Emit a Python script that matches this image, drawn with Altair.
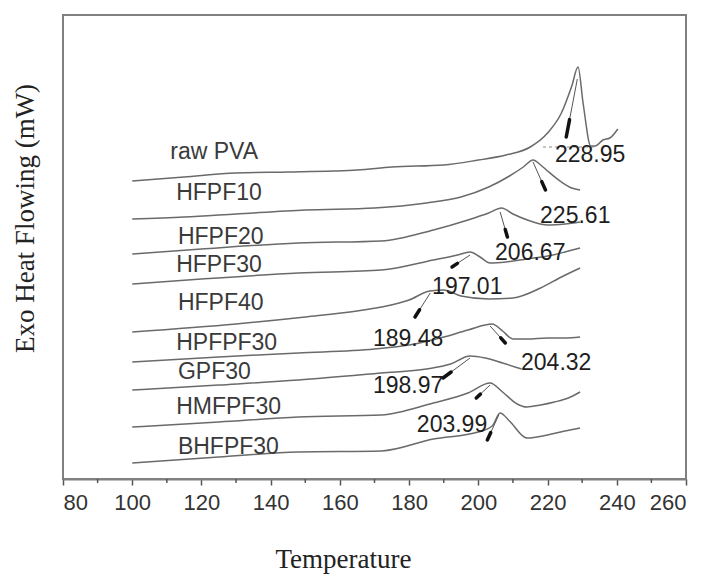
import altair as alt
import pandas as pd

# ---- curve data (Temperature, Exo heat flow in arbitrary mW offset units) ----
samples = ["raw PVA", "HFPF10", "HFPF20", "HFPF30", "HFPF40",
           "HPFPF30", "GPF30", "HMFPF30", "BHFPF30"]

raw_t = [100, 115, 130, 145, 158, 165, 175, 190, 200, 208, 215, 220, 224, 227, 228.8, 230.3, 232.5, 233.8, 236, 238, 240.3]
raw_v = [29.8, 30.2, 30.6, 30.7, 30.8, 30.9, 31.2, 31.4, 31.9, 32.4, 33.2, 34.6, 36.6, 39.3, 41.2, 37.5, 33.3, 33.3, 33.9, 34.1, 35.0]

f10_t = [100, 115, 130, 150, 170, 185, 195, 203, 209, 213, 215.8, 218, 220, 224, 227, 229.4]
f10_v = [26.0, 26.2, 26.5, 26.9, 27.1, 27.6, 28.2, 29.2, 30.3, 31.2, 31.9, 31.4, 30.8, 29.7, 29.1, 28.9]

f20_t = [100, 120, 148, 172, 187, 197, 203, 206.7, 210, 215, 220, 225, 229.4]
f20_v = [22.5, 23.0, 23.6, 23.8, 24.9, 25.9, 26.6, 27.1, 26.5, 25.8, 25.4, 25.5, 25.7]

f30_t = [100, 120, 148, 172, 187, 194, 197.6, 200.5, 203.4, 208, 214, 220, 225, 229.4]
f30_v = [19.5, 20.0, 20.6, 20.9, 21.9, 22.4, 22.7, 22.2, 21.6, 21.7, 22.0, 22.3, 22.7, 23.1]

f40_t = [100, 130, 150, 165, 172, 180, 186, 190, 195, 203, 210, 218, 224, 229.4]
f40_v = [14.7, 15.5, 16.2, 16.8, 17.2, 17.9, 18.8, 18.9, 18.3, 18.0, 18.1, 19.1, 20.2, 21.1]

hp_t = [100, 125, 148, 170, 180, 190, 197, 204, 207, 210, 214, 220, 225, 229.4]
hp_v = [11.7, 12.2, 12.6, 13.0, 13.4, 14.2, 14.9, 15.5, 14.8, 14.0, 14.0, 14.1, 14.1, 14.2]

gp_t = [100, 125, 148, 172, 185, 192, 197.6, 202, 207, 212.5]
gp_v = [8.9, 9.4, 9.9, 10.6, 11.0, 11.5, 12.3, 12.1, 11.6, 11.0]

hm_t = [100, 125, 148, 172, 187, 197, 203.4, 207, 211.2, 214, 218, 222, 226, 229.4]
hm_v = [5.2, 5.7, 6.2, 6.4, 7.6, 8.6, 9.6, 8.7, 7.5, 7.2, 7.4, 7.7, 8.1, 8.7]

bh_t = [100, 125, 148, 172, 187, 200, 204, 206.3, 209, 214, 220, 225, 229.4]
bh_v = [1.6, 2.2, 2.7, 2.8, 4.0, 4.7, 5.3, 6.6, 5.8, 4.1, 4.4, 4.8, 5.1]

series_t = [raw_t, f10_t, f20_t, f30_t, f40_t, hp_t, gp_t, hm_t, bh_t]
series_v = [raw_v, f10_v, f20_v, f30_v, f40_v, hp_v, gp_v, hm_v, bh_v]

# sample name labels
label_t = [111.0, 112.7, 113.2, 112.7, 113.2, 112.7, 113.2, 112.7, 113.2]
label_v = [32.7, 28.6, 24.2, 21.4, 17.6, 13.6, 10.7, 7.2, 3.2]

# peak temperature annotations
peak_text = ["228.95", "225.61", "206.67", "197.01", "189.48", "204.32", "198.97", "203.99"]
peak_t = [232.3, 228.0, 215.0, 196.8, 179.7, 222.5, 179.7, 192.4]
peak_v = [32.4, 26.3, 22.6, 19.2, 14.0, 11.6, 9.3, 5.4]

# annotation arrows (from curve to label)
arr_t0 = [228.6, 215.8, 206.3, 197.6, 186.1, 203.4, 197.6, 203.4, 205.9]
arr_v0 = [40.0, 31.7, 26.7, 22.4, 18.6, 15.3, 12.1, 9.4, 6.4]
arr_t1 = [225.4, 219.4, 208.4, 192.4, 181.7, 207.8, 189.8, 199.4, 202.6]
arr_v1 = [34.2, 28.9, 24.2, 21.2, 16.2, 13.6, 10.1, 8.1, 3.9]

# dashed baseline under raw PVA peak
base_t = [218.7]
base_t2 = [234.3]
base_v = [33.2]

x_major = [80, 100, 120, 140, 160, 180, 200, 220, 240, 260]
x_minor = [90, 110, 130, 150, 170, 190, 210, 230, 250]

# ---- build tables ----
rows = []
for name, ts, vs in zip(samples, series_t, series_v):
    for i, (t, v) in enumerate(zip(ts, vs)):
        rows.append({"sample": name, "i": i, "T": t, "v": v})
curves = pd.DataFrame(rows)

labels = pd.DataFrame({"sample": samples, "T": label_t, "v": label_v})
peaks = pd.DataFrame({"text": peak_text, "T": peak_t, "v": peak_v})
arrows = pd.DataFrame({"t0": arr_t0, "v0": arr_v0, "t1": arr_t1, "v1": arr_v1})
arrows["ht"] = arrows["t1"] - 0.3 * (arrows["t1"] - arrows["t0"])
arrows["hv"] = arrows["v1"] - 0.3 * (arrows["v1"] - arrows["v0"])
baseline = pd.DataFrame({"t0": base_t, "t1": base_t2, "v": base_v})
minor = pd.DataFrame({"T": x_minor})

xscale = alt.Scale(domain=[80, 260], nice=False, zero=False)
yscale = alt.Scale(domain=[0, 46.4], nice=False, zero=False)

xaxis = alt.Axis(
    values=x_major, grid=False, tickSize=6, tickWidth=1.5, tickColor="#555555",
    domain=True, domainColor="#808080", domainWidth=2,
    labelFont="Liberation Sans Narrow, Arial Narrow, Liberation Sans", labelFontSize=22,
    labelColor="#333333", labelPadding=7,
    title="Temperature", titleFont="Liberation Serif", titleFontSize=27,
    titleFontWeight="normal", titleColor="#222222",
    titleX=280, titleY=80, titleBaseline="middle", titleAlign="center",
)
yaxis = alt.Axis(
    labels=False, ticks=False, domain=False, grid=False,
    title="Exo Heat Flowing (mW)", titleFont="Liberation Serif", titleFontSize=27,
    titleFontWeight="normal", titleColor="#222222", titleAngle=270,
    titleX=-38, titleY=203, titleBaseline="middle", titleAlign="center",
)

lines = alt.Chart(curves).mark_line(color="#6a6a6a", strokeWidth=1.5, interpolate="monotone").encode(
    x=alt.X("T:Q", scale=xscale, axis=xaxis),
    y=alt.Y("v:Q", scale=yscale, axis=yaxis),
    detail="sample:N",
    order="i:Q",
)

name_text = alt.Chart(labels).mark_text(
    align="left", baseline="middle", font="Liberation Sans", fontSize=23, color="#3a3a3a"
).encode(x=alt.X("T:Q", scale=xscale), y=alt.Y("v:Q", scale=yscale), text="sample:N")

peak_txt = alt.Chart(peaks).mark_text(
    align="center", baseline="middle", font="Liberation Sans", fontSize=23, color="#1e1e1e"
).encode(x=alt.X("T:Q", scale=xscale), y=alt.Y("v:Q", scale=yscale), text="text:N")

arrow_lines = alt.Chart(arrows).mark_rule(color="#555555", strokeWidth=1).encode(
    x=alt.X("t0:Q", scale=xscale), y=alt.Y("v0:Q", scale=yscale), x2="t1:Q", y2="v1:Q"
)
arrow_heads = alt.Chart(arrows).mark_rule(color="#111111", strokeWidth=3.5, strokeCap="round").encode(
    x=alt.X("ht:Q", scale=xscale), y=alt.Y("hv:Q", scale=yscale), x2="t1:Q", y2="v1:Q"
)
base_dash = alt.Chart(baseline).mark_rule(color="#888888", strokeWidth=1, strokeDash=[3, 3]).encode(
    x=alt.X("t0:Q", scale=xscale), x2="t1:Q", y=alt.Y("v:Q", scale=yscale)
)
minor_ticks = alt.Chart(minor).mark_rule(color="#555555", strokeWidth=1.5).encode(
    x=alt.X("T:Q", scale=xscale), y=alt.value(464), y2=alt.value(468)
)

chart = alt.layer(
    lines, base_dash, arrow_lines, arrow_heads, name_text, peak_txt, minor_ticks
).properties(
    width=623, height=464,
    autosize=alt.AutoSizeParams(type="none"),
    padding={"left": 63, "top": 15, "right": 22, "bottom": 96},
    background="white",
).configure_view(stroke="#808080", strokeWidth=2)

chart.save("out.html", embed_options={"renderer": "svg", "actions": False})
